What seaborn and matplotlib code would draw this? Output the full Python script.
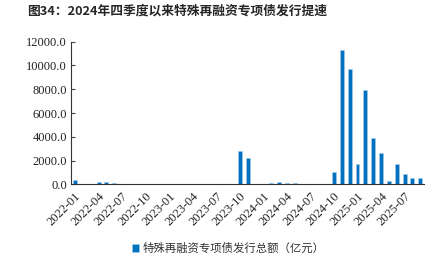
import matplotlib
matplotlib.use("Agg")
import matplotlib.pyplot as plt
import seaborn as sns
import pandas as pd
import numpy as np

months = [f"{y}-{m:02d}" for y in (2022, 2023, 2024, 2025) for m in range(1, 13)][:45]
values = [
    340, 0, 0, 170, 220, 80, 0, 0, 0, 0, 0, 0,          # 2022
    0, 0, 0, 0, 0, 0, 0, 0, 0, 2830, 2190, 50,          # 2023
    0, 80, 220, 80, 130, 0, 0, 0, 0, 1040, 11320, 9720, # 2024
    1710, 7920, 3880, 2640, 280, 1690, 840, 530, 530,   # 2025
]
series_name = "特殊再融资专项债发行总额（亿元）"
title = "图34：2024年四季度以来特殊再融资专项债发行提速"
yticks = [0, 2000, 4000, 6000, 8000, 10000, 12000]

df = pd.DataFrame({"month": months, "value": values})

sns.set_theme(style="white")
plt.rcParams["font.family"] = ["Liberation Serif", "Noto Sans CJK SC"]

fig = plt.figure(figsize=(4.47, 2.54), dpi=100)
ax = fig.add_axes([0.159, 0.274, 0.790, 0.562])

sns.barplot(data=df, x="month", y="value", color="#0070C0", saturation=1,
            width=0.5, ax=ax, label=series_name, edgecolor="#A9CBEA", linewidth=0.4)

ax.set_xlim(-0.5, len(months) - 0.5)
ax.set_ylim(0, 12000)
ax.set_yticks(yticks)
ax.set_yticklabels([f"{v:.1f}" for v in yticks])

lab_pos = list(range(0, len(months), 3))
ax.set_xticks(lab_pos)
ax.set_xticklabels([months[i] for i in lab_pos], rotation=45, ha="right",
                   rotation_mode="anchor")
for lbl in ax.get_xticklabels() + ax.get_yticklabels():
    lbl.set_fontfamily("Liberation Serif")
    lbl.set_fontsize(9)
    lbl.set_color("#222222")
ax.tick_params(axis="x", which="major", length=0, pad=4)
ax.set_xticks([i - 0.5 for i in range(0, len(months) + 1, 3)], minor=True)
ax.tick_params(axis="x", which="minor", length=3, direction="in", color="#444444", width=0.8)
ax.tick_params(axis="y", length=3, direction="in", left=True, color="#444444", width=0.8, pad=3)

for s in ["top", "right"]:
    ax.spines[s].set_visible(False)
for s in ["left", "bottom"]:
    ax.spines[s].set_color("#333333")
    ax.spines[s].set_linewidth(0.8)
ax.set_xlabel("")
ax.set_ylabel("")

leg = ax.legend(loc="center", bbox_to_anchor=(0.51, 0.022), bbox_transform=fig.transFigure,
                frameon=False, handlelength=0.6, handleheight=0.6, handletextpad=0.3,
                prop={"family": ["Noto Sans CJK SC"], "size": 8.2})
for t in leg.get_texts():
    t.set_color("#333333")

fig.text(0.06, 0.955, title, fontsize=9.2, fontweight="bold",
         family=["Noto Sans CJK SC", "Liberation Serif"], va="center", ha="left")

fig.savefig("out.png", dpi=100)
